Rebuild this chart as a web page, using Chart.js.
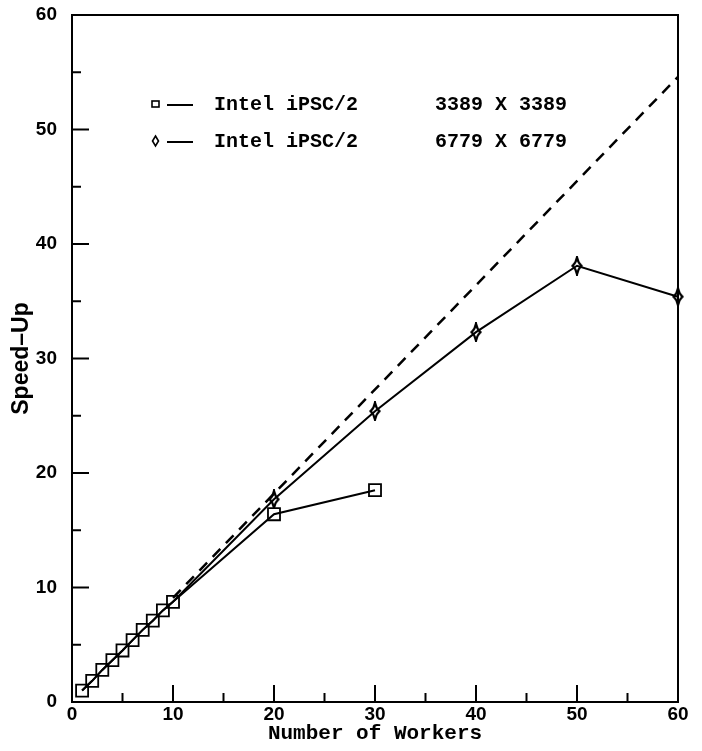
<!DOCTYPE html>
<html>
<head>
<meta charset="utf-8">
<script src="https://cdn.jsdelivr.net/npm/chart.js@4.4.1/dist/chart.umd.min.js"></script>
<style>
  body { margin: 0; background: #fff; }
  .speedup_container { width: 702px; height: 751px; }
</style>
</head>
<body>
<div class="speedup_container">
  <canvas id="speedup"></canvas>
</div>

<script>
// values
var squareWorkers = [1, 2, 3, 4, 5, 6, 7, 8, 9, 10, 20, 30];
var squareSpeedup = [1.0, 1.85, 2.8, 3.65, 4.5, 5.4, 6.3, 7.1, 8.0, 8.75, 16.4, 18.5];

var diamondWorkers = [1, 2, 3, 4, 5, 6, 7, 8, 9, 10, 20, 30, 40, 50, 60];
var diamondSpeedup = [1.0, 1.85, 2.8, 3.65, 4.5, 5.4, 6.3, 7.1, 8.0, 8.75, 17.7, 25.4, 32.3, 38.1, 35.4];

var idealWorkers = [10, 60];
var idealSpeedup = [9.1, 54.6];

var tickValues = [0, 10, 20, 30, 40, 50, 60];

var legendNames = ['Intel iPSC/2', 'Intel iPSC/2'];
var legendSizes = ['3389 X 3389', '6779 X 6779'];

function pairs(xs, ys) {
  return xs.map(function (x, i) { return { x: x, y: ys[i] }; });
}

// tall narrow diamond marker
function makeDiamond(w, h, lw) {
  var c = document.createElement('canvas');
  c.width = w; c.height = h;
  var g = c.getContext('2d');
  g.strokeStyle = '#000';
  g.lineWidth = lw;
  g.beginPath();
  g.moveTo(w / 2, 1.5);
  g.quadraticCurveTo(w / 2 + 1, h / 2 - 3, w - 1.5, h / 2);
  g.quadraticCurveTo(w / 2 + 1, h / 2 + 3, w / 2, h - 1.5);
  g.quadraticCurveTo(w / 2 - 1, h / 2 + 3, 1.5, h / 2);
  g.quadraticCurveTo(w / 2 - 1, h / 2 - 3, w / 2, 1.5);
  g.closePath();
  g.stroke();
  return c;
}
var diamondMark = makeDiamond(12, 20, 2.2);

var frame = {
  id: 'frame',
  afterDraw: function (chart) {
    var ctx = chart.ctx;
    var a = chart.chartArea;
    var xs = chart.scales.x, ys = chart.scales.y;
    ctx.save();
    ctx.strokeStyle = '#000';
    ctx.lineWidth = 2;
    ctx.strokeRect(a.left, a.top, a.right - a.left, a.bottom - a.top);

    // inward ticks, long at 10s, short at 5s
    for (var v = 5; v < 60; v += 5) {
      var len = v % 10 === 0 ? 17 : 9;
      var px = xs.getPixelForValue(v);
      ctx.beginPath();
      ctx.moveTo(px, a.bottom);
      ctx.lineTo(px, a.bottom - len);
      ctx.stroke();
      var py = ys.getPixelForValue(v);
      ctx.beginPath();
      ctx.moveTo(a.left, py);
      ctx.lineTo(a.left + len, py);
      ctx.stroke();
    }

    // legend inside the plot
    ctx.font = 'bold 20px "Liberation Mono"';
    ctx.fillStyle = '#000';
    ctx.textBaseline = 'middle';
    var rows = [104, 141];
    rows.forEach(function (ry, i) {
      ctx.lineWidth = 1.6;
      if (i === 0) {
        ctx.strokeRect(152, ry - 3, 7, 6);
      } else {
        ctx.beginPath();
        ctx.moveTo(155.5, ry - 5);
        ctx.lineTo(158.5, ry);
        ctx.lineTo(155.5, ry + 5);
        ctx.lineTo(152.5, ry);
        ctx.closePath();
        ctx.stroke();
      }
      ctx.lineWidth = 2;
      ctx.beginPath();
      ctx.moveTo(167, ry + 1);
      ctx.lineTo(193, ry + 1);
      ctx.stroke();
      ctx.fillText(legendNames[i], 214, ry + 1);
      ctx.fillText(legendSizes[i], 435, ry + 1);
    });
    ctx.restore();
  }
};

var tickFont = { family: '"Liberation Sans"', size: 19, weight: 'bold' };

var ctx = document.getElementById('speedup');
var speedup = new Chart(ctx, {
  type: 'line',
  data: {
    datasets: [{
      data: pairs(squareWorkers, squareSpeedup),
      borderColor: '#000',
      borderWidth: 2,
      pointStyle: 'rect',
      pointRadius: 8.5,
      pointBorderWidth: 1.8,
      pointBorderColor: '#000',
      pointBackgroundColor: 'rgba(0,0,0,0)',
      clip: false,
      fill: false
    }, {
      data: pairs(diamondWorkers, diamondSpeedup),
      borderColor: '#000',
      borderWidth: 2,
      pointStyle: diamondMark,
      pointRadius: function (c) { return c.raw && c.raw.x > 10 ? 6 : 0; },
      clip: false,
      fill: false
    }, {
      data: pairs(idealWorkers, idealSpeedup),
      borderColor: '#000',
      borderWidth: 2.5,
      borderDash: [11, 8],
      pointRadius: 0,
      fill: false
    }]
  },
  options: {
    responsive: true,
    maintainAspectRatio: false,
    animation: false,
    layout: { padding: { top: 15, right: 24, left: 0, bottom: 0 } },
    plugins: { legend: { display: false }, tooltip: { enabled: false } },
    scales: {
      x: {
        type: 'linear',
        min: 0, max: 60,
        afterFit: function (s) { s.height = 49; s.paddingLeft = 0; s.paddingRight = 0; },
        afterBuildTicks: function (s) { s.ticks = tickValues.map(function (v) { return { value: v }; }); },
        grid: { display: false, drawTicks: false },
        border: { display: false },
        ticks: { color: '#000', font: tickFont, padding: 1, maxRotation: 0 },
        title: {
          display: true,
          text: 'Number of Workers',
          color: '#000',
          font: { family: '"Liberation Mono"', size: 21, weight: 'bold' },
          padding: { top: 0, bottom: 5 }
        }
      },
      y: {
        type: 'linear',
        min: 0, max: 60,
        afterFit: function (s) { s.width = 72; s.paddingTop = 0; s.paddingBottom = 0; },
        afterBuildTicks: function (s) { s.ticks = tickValues.map(function (v) { return { value: v }; }); },
        grid: { display: false, drawTicks: false },
        border: { display: false },
        ticks: { color: '#000', font: tickFont, padding: 15 },
        title: {
          display: true,
          text: 'Speed\u2013Up',
          color: '#000',
          font: { family: '"Liberation Sans"', size: 23, weight: 'bold' },
          padding: { top: 8, bottom: 0 }
        }
      }
    }
  },
  plugins: [frame]
});
</script>
</body>
</html>
